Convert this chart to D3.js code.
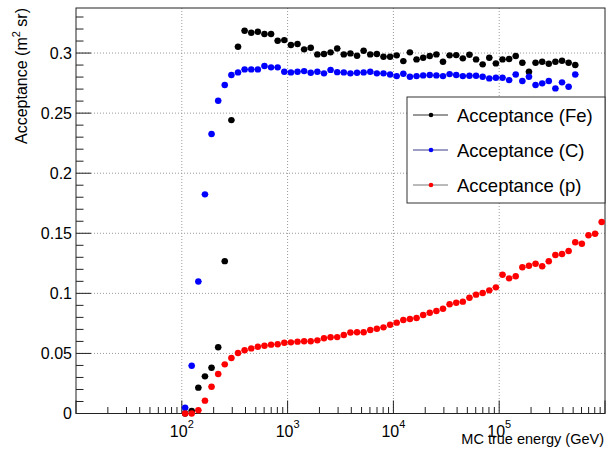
<!DOCTYPE html>
<html>
<head>
<meta charset="utf-8">
<script src="https://cdn.jsdelivr.net/npm/d3@7"></script>
<style>
  body { margin: 0; background: #fff; }
  svg { font-family: "Liberation Sans", Arial, sans-serif; }
</style>
</head>
<body>
<svg id="chart" width="608" height="452"></svg>
<script>
// bin centres (GeV), 16 bins per decade from 1e2 to 1e6
var energy = [
  107.5, 124.1, 143.3, 165.5, 191.1, 220.7, 254.8, 294.3, 339.8, 392.4, 453.2, 523.3, 604.3, 697.8, 805.8, 930.6,
  1075, 1241, 1433, 1655, 1911, 2207, 2548, 2943, 3398, 3924, 4532, 5233, 6043, 6978, 8058, 9306,
  10746, 12409, 14330, 16548, 19110, 22067, 25483, 29427, 33982, 39242, 45316, 52330, 60430, 69783, 80584, 93057,
  107460, 124090, 143300, 165480, 191100, 220670, 254830, 294270, 339820, 392420, 453160, 523300, 604300, 697830, 805840, 930570
];

var accFe = [
  0, 0.0021, 0.0215, 0.0309, 0.0381, 0.0551, 0.1268, 0.2442, 0.3052, 0.3186,
  0.3169, 0.3177, 0.3158, 0.3158, 0.3102, 0.3108, 0.3067, 0.3075, 0.3031, 0.3044,
  0.2989, 0.2992, 0.3006, 0.3038, 0.2989, 0.2997, 0.2977, 0.3019, 0.2989, 0.2992,
  0.2969, 0.2969, 0.2981, 0.2933, 0.3006, 0.2947, 0.2961, 0.2975, 0.2989, 0.2928,
  0.2981, 0.2983, 0.2956, 0.2986, 0.2947, 0.2906, 0.2961, 0.2914, 0.2947, 0.2950,
  0.2975, 0.2919, 0.2844, 0.2919, 0.2928, 0.2911, 0.2928, 0.2936, 0.2919, 0.2900
];

var accC = [
  0.0048, 0.0398, 0.1099, 0.1824, 0.2326, 0.2603, 0.2734, 0.2817, 0.2839, 0.2864,
  0.2864, 0.2864, 0.2892, 0.2881, 0.2881, 0.2845, 0.2839, 0.2845, 0.2850, 0.2836,
  0.2845, 0.2831, 0.2860, 0.2841, 0.2839, 0.2831, 0.2836, 0.2839, 0.2844, 0.2831,
  0.2831, 0.2822, 0.2808, 0.2828, 0.2803, 0.2808, 0.2814, 0.2817, 0.2814, 0.2808,
  0.2825, 0.2817, 0.2808, 0.2811, 0.2811, 0.2803, 0.2789, 0.2795, 0.2795, 0.2775,
  0.2822, 0.2767, 0.2803, 0.2734, 0.2748, 0.2767, 0.2706, 0.2756, 0.2720, 0.2822
];

var accP = [
  0, 0, 0.0027, 0.0107, 0.0223, 0.0329, 0.0409, 0.0462, 0.0503, 0.0526,
  0.0542, 0.0556, 0.0564, 0.0573, 0.0576, 0.0589, 0.0592, 0.0598, 0.0601, 0.0601,
  0.0609, 0.0626, 0.0635, 0.0636, 0.0653, 0.0674, 0.0676, 0.0676, 0.0695, 0.0706,
  0.0717, 0.0739, 0.0756, 0.0778, 0.0787, 0.0795, 0.0820, 0.0839, 0.0853, 0.0872,
  0.0909, 0.0922, 0.0931, 0.0964, 0.0989, 0.1003, 0.1025, 0.1050, 0.1155, 0.1125,
  0.1142, 0.1217, 0.1230, 0.1247, 0.1225, 0.1267, 0.1319, 0.1327, 0.1352, 0.1425,
  0.1413, 0.1483, 0.1496, 0.1594
];

var yTickValues = [0, 0.05, 0.1, 0.15, 0.2, 0.25, 0.3];
var xTickPowers = [2, 3, 4, 5];
var legendNames = ["Acceptance (Fe)", "Acceptance (C)", "Acceptance (p)"];

var series = [
  {values: accFe, color: "#000000", line: "#333333"},
  {values: accC, color: "#0000ff", line: "#3b3b8c"},
  {values: accP, color: "#ff0000", line: "#777777"}
];

var svg = d3.select("#chart");
var L = 76, R = 605, T = 8, B = 413.5;

var x = d3.scaleLog().domain([10, 1e6]).range([L, R]);
var y = d3.scaleLinear().domain([0, 0.3375]).range([B, T]);

// grid
var grid = svg.append("g").attr("stroke", "#9a9a9a").attr("stroke-dasharray", "1,2");
xTickPowers.forEach(function(p) {
  grid.append("line").attr("x1", x(Math.pow(10, p))).attr("x2", x(Math.pow(10, p)))
    .attr("y1", T).attr("y2", B);
});
yTickValues.slice(1).forEach(function(v) {
  grid.append("line").attr("x1", L).attr("x2", R).attr("y1", y(v)).attr("y2", y(v));
});

// frame
svg.append("rect").attr("x", L).attr("y", T).attr("width", R - L).attr("height", B - T)
  .attr("fill", "none").attr("stroke", "#222").attr("stroke-width", 1);

// x ticks (inside, pointing up)
var axis = svg.append("g").attr("stroke", "#222");
x.ticks().forEach(function(v) {
  var major = Math.abs(Math.log10(v) - Math.round(Math.log10(v))) < 1e-6;
  axis.append("line").attr("x1", x(v)).attr("x2", x(v))
    .attr("y1", B).attr("y2", B - (major ? 13 : 6.5));
});

// y ticks (inside, pointing right)
y.ticks(34).forEach(function(v) {
  var major = Math.abs(v * 20 - Math.round(v * 20)) < 1e-6;
  axis.append("line").attr("x1", L).attr("x2", L + (major ? 15 : 7.5))
    .attr("y1", y(v)).attr("y2", y(v));
});

// y labels
svg.selectAll(".ylab").data(yTickValues).enter().append("text")
  .attr("class", "ylab")
  .attr("x", L - 4).attr("y", function(d) { return y(d) + 5.5; })
  .attr("text-anchor", "end").attr("font-size", 16)
  .text(function(d) { return d3.format("~g")(d); });

// x labels 10^n
xTickPowers.forEach(function(p) {
  var t = svg.append("text").attr("x", x(Math.pow(10, p))).attr("y", 436.5)
    .attr("text-anchor", "middle").attr("font-size", 16);
  t.append("tspan").text("10");
  t.append("tspan").attr("font-size", 11).attr("dy", -9).text(p);
});

// axis titles
svg.append("text").attr("x", 604).attr("y", 444).attr("text-anchor", "end")
  .attr("font-size", 14.5).text("MC true energy (GeV)");

var yt = svg.append("text").attr("transform", "translate(27,8) rotate(-90)")
  .attr("text-anchor", "end").attr("font-size", 16);
yt.append("tspan").text("Acceptance (m");
yt.append("tspan").attr("font-size", 11).attr("dy", -7).text("2");
yt.append("tspan").attr("dy", 7).text(" sr)");

// points with horizontal bin-width error bars
var half = Math.pow(10, 1 / 32);
series.forEach(function(s) {
  var g = svg.append("g");
  var pts = s.values.map(function(v, i) { return {e: energy[i], v: v}; });
  g.selectAll("line").data(pts).enter().append("line")
    .attr("x1", function(d) { return x(d.e / half); })
    .attr("x2", function(d) { return x(d.e * half); })
    .attr("y1", function(d) { return y(d.v); })
    .attr("y2", function(d) { return y(d.v); })
    .attr("stroke", s.color).attr("stroke-width", 1);
  g.selectAll("circle").data(pts).enter().append("circle")
    .attr("cx", function(d) { return x(d.e); })
    .attr("cy", function(d) { return y(d.v); })
    .attr("r", 3.2)
    .attr("fill", s.color);
});

// legend
var lg = svg.append("g");
lg.append("rect").attr("x", 407).attr("y", 97).attr("width", 198).attr("height", 106)
  .attr("fill", "#fff").attr("stroke", "#333").attr("stroke-width", 1);
legendNames.forEach(function(name, i) {
  var cy = 115 + i * 35;
  lg.append("line").attr("x1", 413).attr("x2", 448).attr("y1", cy).attr("y2", cy)
    .attr("stroke", series[i].line).attr("stroke-width", 1);
  lg.append("circle").attr("cx", 431).attr("cy", cy).attr("r", 2.3).attr("fill", series[i].color);
  lg.append("text").attr("x", 457).attr("y", cy + 6.5).attr("font-size", 18.5).text(name);
});
</script>
</body>
</html>
